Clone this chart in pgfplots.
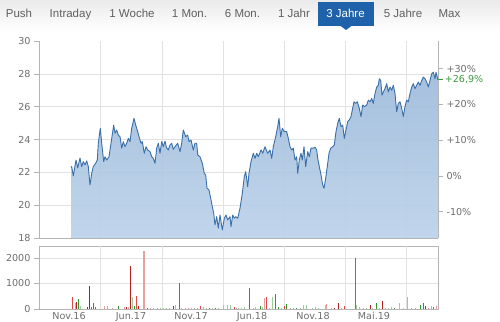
\documentclass[border=0pt]{standalone}
\usepackage{pgfplots}
\pgfplotsset{compat=1.18}
\usepackage{pgfplotstable}
\usepackage{fontspec}
\setmainfont{Liberation Sans}
\newfontfamily\dejavu{DejaVu Sans}
\definecolor{tickgray}{HTML}{6E6E6E}
\definecolor{axgray}{HTML}{B4B4B4}
\definecolor{gridgray}{HTML}{E2E2E2}
\definecolor{linecol}{HTML}{3A6FA9}
\definecolor{filltop}{HTML}{9CB9DA}
\definecolor{fillbot}{HTML}{BBD2EA}
\definecolor{tabblue}{HTML}{1F62A9}
\definecolor{tabtext}{HTML}{606060}
\definecolor{pctgreen}{HTML}{3C9A3C}
\definecolor{vdred}{HTML}{B21E1E}
\definecolor{vred}{HTML}{E04848}
\definecolor{vpink}{HTML}{E8A0A0}
\definecolor{vgreen}{HTML}{2E9A2E}
\definecolor{vlgreen}{HTML}{98D098}

\pgfplotstableread{
x y
71.0 22.30
71.7 22.35
73.3 21.78
76.0 22.75
77.7 22.27
80.0 22.87
81.7 22.35
83.3 22.65
85.0 22.45
86.7 22.70
88.3 22.35
90.0 21.23
91.7 21.94
93.3 22.35
95.7 22.55
97.3 22.75
98.3 23.77
100.3 24.68
101.7 23.77
103.7 22.65
105.0 22.95
106.7 22.75
109.0 22.95
111.0 23.77
113.7 24.88
115.0 24.38
116.7 24.58
118.3 24.27
120.0 24.17
121.7 23.47
123.3 23.87
125.0 23.56
126.7 23.77
128.3 24.07
130.0 23.87
131.7 24.68
134.0 25.29
135.7 24.88
137.7 24.48
139.0 24.17
141.0 23.77
142.3 23.87
144.3 23.16
146.0 23.56
147.7 23.36
150.0 23.26
151.7 22.95
153.3 22.85
155.0 22.55
156.7 23.47
158.3 23.77
160.0 23.16
161.7 23.87
163.3 23.56
165.0 23.90
166.5 23.50
168.3 23.36
170.0 23.67
171.7 23.77
173.3 23.40
175.0 23.56
177.7 23.77
180.0 23.26
181.7 23.77
183.3 24.58
185.7 24.17
187.7 24.27
189.0 23.87
191.0 23.97
193.3 23.36
195.0 23.77
196.7 23.77
197.7 23.06
200.0 22.95
202.3 22.55
204.3 21.94
205.7 21.84
207.0 21.03
209.0 20.93
210.7 20.42
212.3 19.91
213.7 19.51
215.0 18.80
216.7 19.30
218.3 18.60
220.0 19.40
222.3 18.49
224.3 19.20
226.0 19.40
227.7 19.10
230.0 19.30
231.0 18.69
232.7 19.40
234.3 19.20
235.7 19.30
237.7 19.20
240.0 19.81
242.3 20.72
244.3 21.74
245.7 22.04
247.7 21.13
249.0 21.94
251.0 22.65
253.3 23.16
255.0 22.85
256.7 23.16
258.3 22.95
261.0 23.36
262.7 23.16
265.0 23.56
267.7 23.16
270.0 23.36
271.7 22.85
273.3 23.56
275.7 24.17
277.7 24.78
279.0 25.29
280.7 24.17
282.3 24.68
284.3 24.48
286.7 24.48
288.3 24.07
290.0 23.56
291.7 23.36
293.3 23.47
295.0 22.75
296.7 22.95
297.7 21.94
299.3 22.75
301.0 23.16
302.3 22.75
304.0 23.56
305.7 22.35
307.7 23.26
309.3 22.95
311.0 23.47
313.3 23.47
315.0 23.53
316.7 23.36
317.7 22.85
319.3 22.35
321.0 21.84
322.7 21.23
324.0 21.03
325.7 21.64
327.3 22.35
329.0 23.16
330.7 23.47
332.7 23.56
334.3 23.67
336.0 24.48
337.7 24.98
339.3 25.29
341.0 24.78
342.7 24.88
344.3 24.07
346.0 24.58
347.7 25.09
349.3 25.19
351.0 25.39
352.3 25.80
354.0 26.30
355.7 26.20
357.3 26.30
359.3 25.90
361.0 25.40
362.7 26.10
364.3 26.00
366.7 26.10
368.3 26.40
370.0 26.30
371.7 26.50
373.3 26.20
375.0 26.80
376.7 27.20
378.3 27.30
379.3 27.70
380.7 27.60
382.0 26.70
383.3 26.90
385.0 27.10
386.7 27.40
388.3 26.90
390.0 27.20
391.7 27.00
393.3 27.30
395.0 26.80
396.7 25.70
398.3 26.20
400.0 26.30
401.7 25.90
403.3 25.40
405.0 26.00
406.7 26.40
408.3 26.30
410.0 26.80
411.7 27.20
413.3 27.40
415.0 27.10
416.7 27.30
418.3 27.50
420.0 27.30
421.7 27.60
423.3 27.80
425.0 27.70
426.7 27.50
428.3 27.20
430.0 27.60
431.7 28.00
433.3 28.10
435.0 27.70
436.0 28.10
437.3 27.80
438.0 27.64
}\price

\pgfplotstableread{
x y
76.3 270
87.3 60
89.3 900
126.7 80
130.3 1690
138.3 100
173.3 120
334.3 40
338.3 240
370.0 170
382.3 330
425.0 120
}\voldred

\pgfplotstableread{
x y
72.3 480
91.7 60
136.3 510
200.7 100
234.0 60
266.7 470
284.3 130
344.3 100
355.0 2010
433.3 80
}\volred

\pgfplotstableread{
x y
75.0 235
104.7 100
107.3 100
112.0 40
124.0 60
128.3 60
150.0 40
157.0 50
163.0 40
175.7 150
185.0 40
188.0 40
191.0 40
194.0 40
197.0 40
203.0 60
236.7 40
264.3 420
290.0 40
325.0 170
326.7 200
331.0 40
341.0 40
363.0 30
385.0 40
407.7 460
411.0 40
428.0 40
431.0 100
436.0 130
}\volpink

\pgfplotstableread{
x y
78.3 390
93.3 250
95.7 80
118.3 100
134.0 100
147.3 40
179.0 1000
209.0 50
215.0 40
249.0 840
260.0 100
275.0 590
278.3 80
286.7 180
296.0 40
376.0 220
394.0 50
420.3 170
423.3 240
}\volgreen

\pgfplotstableread{
x y
80.0 100
132.3 480
153.0 50
160.0 40
166.0 50
169.0 40
181.3 40
206.0 50
212.0 40
218.0 50
223.0 170
227.3 170
230.7 170
238.3 40
241.0 30
244.3 60
253.0 40
255.7 60
262.0 60
269.5 40
272.3 470
281.0 40
293.0 40
300.0 40
303.3 170
306.7 170
312.0 40
315.0 60
318.0 30
356.7 140
359.3 60
366.0 30
372.7 40
379.0 40
388.0 50
391.0 60
399.3 220
403.0 30
415.0 40
}\vollgreen

\pgfplotstableread{
x y
144.0 2270
}\volpinkwide

\begin{document}
\begin{tikzpicture}[x=1pt,y=1pt]
\path[use as bounding box] (0,0) rectangle (500,321);
\fill[white] (0,0) rectangle (500,321);
% tab bar
\shade[top color=black!8, bottom color=white] (0,290) rectangle (500,321);
\fill[tabblue] (318,295) rectangle (374,319);
\fill[tabblue] (340,295.5) -- (352,295.5) -- (346,291) -- cycle;
\begin{scope}[every node/.style={anchor=base, inner sep=0pt, font=\fontsize{11.5}{13}\selectfont, text=tabtext}]
\node at (19,303.5) {Push};
\node at (70.5,303.5) {Intraday};
\node at (132,303.5) {1 Woche};
\node at (189.5,303.5) {1 Mon.};
\node at (242.5,303.5) {6 Mon.};
\node at (294,303.5) {1 Jahr};
\node[text=white] at (345.5,303.5) {3 Jahre};
\node at (403,303.5) {5 Jahre};
\node at (449.5,303.5) {Max};
\end{scope}

\pgfplotsset{
  chartbase/.style={
    anchor=south west, scale only axis, width=399pt,
    xmin=39, xmax=438,
    /pgf/number format/assume math mode=true,
    /pgf/number format/1000 sep={},
    ticklabel style={font=\dejavu\fontsize{9.6}{11}\selectfont, text=tickgray},
    every tick/.style={draw=axgray, line width=0.6pt},
    tick align=outside, major tick length=5pt,
    axis line style={draw=axgray, line width=0.7pt},
    major grid style={draw=gridgray, line width=0.6pt},
  }
}

% main price axis
\begin{axis}[chartbase,
  at={(39pt,83pt)}, height=197pt,
  ymin=18, ymax=30,
  axis x line*=bottom, axis y line*=left,
  xtick={100,162,223,284,345,406}, xticklabels={}, xmajorgrids,
  xtick style={draw=none},
  ytick={18,20,...,28}, ymajorgrids,
  extra y ticks={30}, extra y tick style={grid=none},
]
\addplot[draw=none, fill opacity=0.9, top color=filltop, bottom color=fillbot]
  table[x=x,y=y] {\price} -- (axis cs:438,18) -- (axis cs:71,18) -- cycle;
\addplot[color=linecol, line width=0.9pt, line join=round] table[x=x,y=y] {\price};
\end{axis}

% right percentage axis
\begin{axis}[chartbase,
  at={(39pt,83pt)}, height=197pt,
  ymin=18, ymax=30, clip=false,
  axis x line=none, axis y line*=right,
  ytick={19.60,21.78,23.96,26.14,28.31},
  yticklabels={-10\%,0\%,+10\%,+20\%,+30\%},
]
\addplot[draw=none] coordinates {(71,22)};
\draw[pctgreen, line width=0.6pt] (axis cs:438,27.64) -- ++(5pt,0pt)
  node[right, inner sep=1.5pt, font=\dejavu\fontsize{9.6}{11}\selectfont, text=pctgreen] {+26,9\%};
\end{axis}

% volume axis
\begin{axis}[chartbase,
  at={(39pt,12pt)}, height=63pt,
  ymin=0, ymax=2470,
  xtick={69,131,191,252,313,374},
  xticklabels={Nov.16,Jun.17,Nov.17,Jun.18,Nov.18,Mai.19},
  xtick style={draw=none},
  extra x ticks={100,162,223,284,345,406}, extra x tick labels={},
  extra x tick style={grid=major, xtick style={draw=none}},
  ytick={0,1000,2000}, ymajorgrids, ytick pos=left, xtick pos=bottom,
  xticklabel style={yshift=5.5pt},
]
\addplot[ycomb, color=vdred, line width=1pt, mark=none] table[x=x,y=y] {\voldred};
\addplot[ycomb, color=vred, line width=1pt, mark=none] table[x=x,y=y] {\volred};
\addplot[ycomb, color=vpink, line width=1pt, mark=none] table[x=x,y=y] {\volpink};
\addplot[ycomb, color=vpink, line width=2pt, mark=none] table[x=x,y=y] {\volpinkwide};
\addplot[ycomb, color=vgreen, line width=1pt, mark=none] table[x=x,y=y] {\volgreen};
\addplot[ycomb, color=vlgreen, line width=1pt, mark=none] table[x=x,y=y] {\vollgreen};
\end{axis}
\end{tikzpicture}
\end{document}
